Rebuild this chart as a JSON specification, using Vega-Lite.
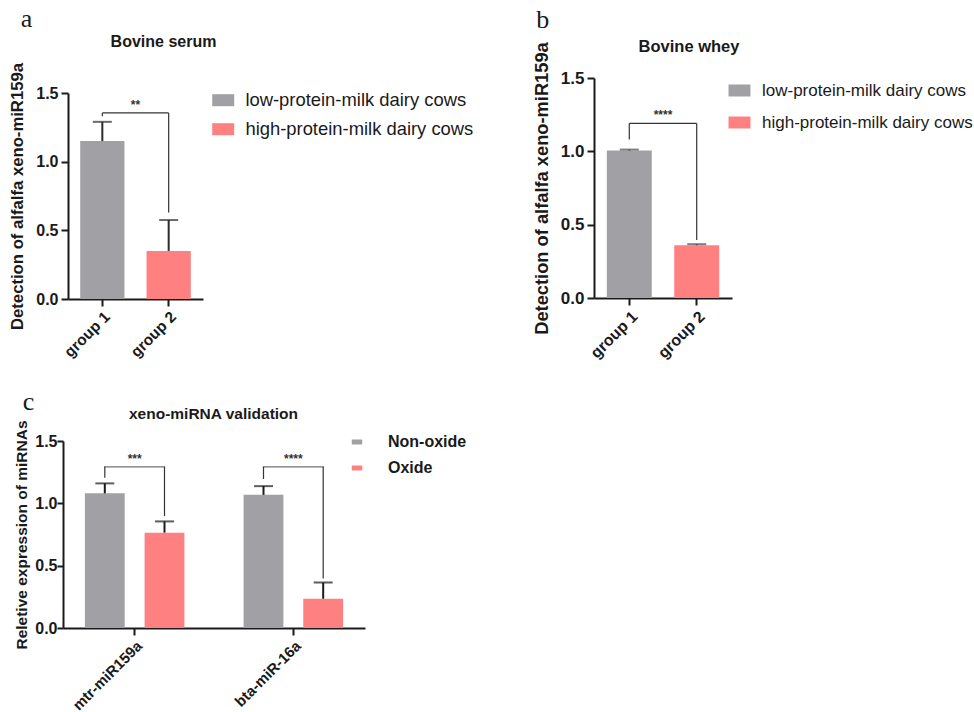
{
  "$schema": "https://vega.github.io/schema/vega-lite/v6.json",
  "background": "white",
  "padding": {"left": 9, "top": 6, "right": 0, "bottom": 0},
  "config": {
    "font": "Liberation Sans",
    "view": {"stroke": null},
    "axis": {"grid": false, "domainColor": "#1a1a1a", "domainWidth": 2, "tickColor": "#1a1a1a", "tickWidth": 2, "tickSize": 7, "labelFontWeight": "bold", "labelFontSize": 16, "labelColor": "#1a1a1a", "titleFontWeight": "bold", "titleColor": "#1a1a1a", "labelPadding": 3},
    "title": {"color": "#1a1a1a"},
    "legend": {"title": null, "symbolType": "M-1.83,-1H1.83V1H-1.83Z", "symbolSize": 144, "symbolStrokeWidth": 0, "symbolOpacity": 1, "labelColor": "#1a1a1a", "labelOffset": 12, "offset": 9, "labelLimit": 400}
  },
  "datasets": {
    "a_bars": [
      {"group": "group 1", "cond": "low-protein-milk dairy cows", "value": 1.15, "upper": 1.29},
      {"group": "group 2", "cond": "high-protein-milk dairy cows", "value": 0.35, "upper": 0.575}
    ],
    "a_brk": [
      {"g1": "group 1", "g2": "group 2", "y1": 1.355, "y2": 1.355},
      {"g1": "group 1", "g2": "group 1", "y1": 1.355, "y2": 1.33},
      {"g1": "group 2", "g2": "group 2", "y1": 1.355, "y2": 0.63}
    ],
    "a_star": [{"group": "group 1", "y": 1.355, "label": "**"}],
    "b_bars": [
      {"group": "group 1", "cond": "low-protein-milk dairy cows", "value": 1.005, "upper": 1.012},
      {"group": "group 2", "cond": "high-protein-milk dairy cows", "value": 0.36, "upper": 0.367}
    ],
    "b_brk": [
      {"g1": "group 1", "g2": "group 2", "y1": 1.19, "y2": 1.19},
      {"g1": "group 1", "g2": "group 1", "y1": 1.19, "y2": 1.08},
      {"g1": "group 2", "g2": "group 2", "y1": 1.19, "y2": 0.395}
    ],
    "b_star": [{"group": "group 1", "y": 1.19, "label": "****"}],
    "c_bars": [
      {"mirna": "mtr-miR159a", "cond": "Non-oxide", "value": 1.08, "upper": 1.16},
      {"mirna": "mtr-miR159a", "cond": "Oxide", "value": 0.765, "upper": 0.855},
      {"mirna": "bta-miR-16a", "cond": "Non-oxide", "value": 1.068, "upper": 1.138},
      {"mirna": "bta-miR-16a", "cond": "Oxide", "value": 0.235, "upper": 0.365}
    ],
    "c_vbrk": [
      {"mirna": "mtr-miR159a", "cond": "Non-oxide", "y1": 1.293, "y2": 1.205},
      {"mirna": "mtr-miR159a", "cond": "Oxide", "y1": 1.293, "y2": 0.897},
      {"mirna": "bta-miR-16a", "cond": "Non-oxide", "y1": 1.293, "y2": 1.195},
      {"mirna": "bta-miR-16a", "cond": "Oxide", "y1": 1.293, "y2": 0.397}
    ],
    "c_hbrk": [
      {"mirna": "mtr-miR159a", "y": 1.293, "label": "***"},
      {"mirna": "bta-miR-16a", "y": 1.293, "label": "****"}
    ]
  },
  "resolve": {"scale": {"color": "independent"}, "legend": {"color": "independent"}},
  "spacing": 28,
  "vconcat": [
    {
      "spacing": 45,
      "resolve": {"scale": {"color": "independent"}, "legend": {"color": "independent"}},
      "hconcat": [
        {
          "title": {"text": "a", "anchor": "start", "font": "Liberation Serif", "fontSize": 26, "fontWeight": "normal", "offset": 2, "dx": 11},
          "resolve": {"scale": {"color": "independent"}, "legend": {"color": "independent"}},
          "vconcat": [
            {
              "title": {"text": "Bovine serum", "fontSize": 16, "fontWeight": "bold", "frame": "group", "offset": 12, "dx": 28},
              "width": 135,
              "height": 221,
              "encoding": {
                "x": {"field": "group", "type": "nominal", "sort": ["group 1", "group 2"], "scale": {"paddingInner": 0.333, "paddingOuter": 0.184}, "axis": {"title": null, "labelAngle": -45, "labelFontSize": 15.5}}
              },
              "layer": [
                {
                  "data": {"name": "a_bars"},
                  "mark": {"type": "bar"},
                  "encoding": {
                    "y": {"field": "value", "type": "quantitative", "scale": {"domain": [0, 1.5], "range": [221, 15], "nice": false}, "axis": {"values": [0, 0.5, 1, 1.5], "format": ".1f", "title": "Detection of alfalfa xeno-miR159a", "titleFontSize": 16.7, "titlePadding": 9}},
                    "color": {"field": "cond", "type": "nominal", "scale": {"domain": ["low-protein-milk dairy cows", "high-protein-milk dairy cows"], "range": ["#a1a0a5", "#ff8080"]}, "legend": {"labelFontSize": 18.4, "rowPadding": 10, "padding": 13, "offset": -2, "labelOffset": 13}}
                  }
                },
                {
                  "data": {"name": "a_bars"},
                  "mark": {"type": "rule", "color": "#2b2b2b", "strokeWidth": 2},
                  "encoding": {"y": {"field": "value", "type": "quantitative"}, "y2": {"field": "upper"}}
                },
                {
                  "data": {"name": "a_bars"},
                  "mark": {"type": "tick", "color": "#2b2b2b", "thickness": 2, "size": 19, "orient": "horizontal"},
                  "encoding": {"y": {"field": "upper", "type": "quantitative"}}
                },
                {
                  "data": {"name": "a_brk"},
                  "mark": {"type": "rule", "color": "#333333", "strokeWidth": 1.2},
                  "encoding": {"x": {"field": "g1", "type": "nominal"}, "x2": {"field": "g2"}, "y": {"field": "y1", "type": "quantitative"}, "y2": {"field": "y2"}}
                },
                {
                  "data": {"name": "a_star"},
                  "mark": {"type": "text", "baseline": "bottom", "dy": -1, "fontSize": 12, "fontWeight": "bold", "color": "#333333"},
                  "encoding": {"x": {"field": "group", "type": "nominal", "bandPosition": 1.25}, "y": {"field": "y", "type": "quantitative"}, "text": {"field": "label"}}
                }
              ]
            }
          ]
        },
        {
          "title": {"text": "b", "anchor": "start", "font": "Liberation Serif", "fontSize": 26, "fontWeight": "normal", "offset": 6, "dx": 4},
          "resolve": {"scale": {"color": "independent"}, "legend": {"color": "independent"}},
          "vconcat": [
            {
              "title": {"text": "Bovine whey", "fontSize": 16.5, "fontWeight": "bold", "frame": "group", "offset": -13.5, "dx": 26},
              "width": 138,
              "height": 220,
              "encoding": {
                "x": {"field": "group", "type": "nominal", "sort": ["group 1", "group 2"], "scale": {"paddingInner": 0.333, "paddingOuter": 0.19}, "axis": {"title": null, "labelAngle": -45, "labelFontSize": 16}}
              },
              "layer": [
                {
                  "data": {"name": "b_bars"},
                  "mark": {"type": "bar"},
                  "encoding": {
                    "y": {"field": "value", "type": "quantitative", "scale": {"domain": [0, 1.5], "nice": false}, "axis": {"values": [0, 0.5, 1, 1.5], "format": ".1f", "title": "Detection of alfalfa xeno-miR159a", "titleFontSize": 18.3, "titlePadding": 9, "labelFontSize": 17}},
                    "color": {"field": "cond", "type": "nominal", "scale": {"domain": ["low-protein-milk dairy cows", "high-protein-milk dairy cows"], "range": ["#a1a0a5", "#ff8080"]}, "legend": {"labelFontSize": 17, "rowPadding": 14, "padding": 4, "offset": -5, "labelOffset": 14}}
                  }
                },
                {
                  "data": {"name": "b_bars"},
                  "mark": {"type": "rule", "color": "#4a4a4a", "strokeWidth": 2},
                  "encoding": {"y": {"field": "value", "type": "quantitative"}, "y2": {"field": "upper"}}
                },
                {
                  "data": {"name": "b_bars"},
                  "mark": {"type": "tick", "color": "#4a4a4a", "thickness": 2, "size": 19, "orient": "horizontal"},
                  "encoding": {"y": {"field": "upper", "type": "quantitative"}}
                },
                {
                  "data": {"name": "b_brk"},
                  "mark": {"type": "rule", "color": "#333333", "strokeWidth": 1.2},
                  "encoding": {"x": {"field": "g1", "type": "nominal"}, "x2": {"field": "g2"}, "y": {"field": "y1", "type": "quantitative"}, "y2": {"field": "y2"}}
                },
                {
                  "data": {"name": "b_star"},
                  "mark": {"type": "text", "baseline": "bottom", "dy": -1, "fontSize": 12, "fontWeight": "bold", "color": "#333333"},
                  "encoding": {"x": {"field": "group", "type": "nominal", "bandPosition": 1.25}, "y": {"field": "y", "type": "quantitative"}, "text": {"field": "label"}}
                }
              ]
            }
          ]
        }
      ]
    },
    {
      "title": {"text": "c", "anchor": "start", "font": "Liberation Serif", "fontSize": 26, "fontWeight": "normal", "offset": -8, "dx": 8},
      "resolve": {"scale": {"color": "independent"}, "legend": {"color": "independent"}},
      "vconcat": [
        {
          "title": {"text": "xeno-miRNA validation", "fontSize": 15.5, "fontWeight": "bold", "frame": "group", "offset": -3, "dx": -3},
          "width": 297,
          "height": 194,
          "encoding": {
            "x": {"field": "mirna", "type": "nominal", "sort": ["mtr-miR159a", "bta-miR-16a"], "scale": {"range": [-5, 297], "paddingInner": 0.373, "paddingOuter": 0.138}, "axis": {"title": null, "labelAngle": -45, "labelFontSize": 15}}
          },
          "layer": [
            {
              "data": {"name": "c_bars"},
              "mark": {"type": "bar"},
              "encoding": {
                "xOffset": {"field": "cond", "type": "nominal", "sort": ["Non-oxide", "Oxide"], "scale": {"paddingInner": 0.333, "paddingOuter": 0}},
                "y": {"field": "value", "type": "quantitative", "scale": {"domain": [0, 1.5], "range": [194, 7], "nice": false}, "axis": {"values": [0, 0.5, 1, 1.5], "format": ".1f", "title": "Reletive expression of miRNAs", "titleFontSize": 15.5, "titlePadding": 5, "labelPadding": 0, "tickSize": 6, "offset": 5}},
                "color": {"field": "cond", "type": "nominal", "scale": {"domain": ["Non-oxide", "Oxide"], "range": ["#a1a0a5", "#ff8080"]}, "legend": {"labelFontSize": 16, "labelFontWeight": "bold", "rowPadding": 10, "symbolType": "M-1.05,-0.5H1.05V0.5H-1.05Z", "symbolSize": 100, "labelOffset": 23, "offset": -16}}
              }
            },
            {
              "data": {"name": "c_bars"},
              "mark": {"type": "rule", "color": "#1a1a1a", "strokeWidth": 2},
              "encoding": {"xOffset": {"field": "cond", "type": "nominal", "sort": ["Non-oxide", "Oxide"]}, "y": {"field": "value", "type": "quantitative"}, "y2": {"field": "upper"}}
            },
            {
              "data": {"name": "c_bars"},
              "mark": {"type": "tick", "color": "#1a1a1a", "thickness": 2, "size": 19, "orient": "horizontal"},
              "encoding": {"xOffset": {"field": "cond", "type": "nominal", "sort": ["Non-oxide", "Oxide"]}, "y": {"field": "upper", "type": "quantitative"}}
            },
            {
              "data": {"name": "c_vbrk"},
              "mark": {"type": "rule", "color": "#333333", "strokeWidth": 1.2},
              "encoding": {"xOffset": {"field": "cond", "type": "nominal", "sort": ["Non-oxide", "Oxide"]}, "y": {"field": "y1", "type": "quantitative"}, "y2": {"field": "y2"}}
            },
            {
              "data": {"name": "c_hbrk"},
              "mark": {"type": "tick", "color": "#333333", "thickness": 1.2, "size": 61, "orient": "horizontal"},
              "encoding": {"y": {"field": "y", "type": "quantitative"}}
            },
            {
              "data": {"name": "c_hbrk"},
              "mark": {"type": "text", "baseline": "bottom", "dy": -1, "fontSize": 12, "fontWeight": "bold", "color": "#333333"},
              "encoding": {"y": {"field": "y", "type": "quantitative"}, "text": {"field": "label"}}
            }
          ]
        }
      ]
    }
  ]
}
